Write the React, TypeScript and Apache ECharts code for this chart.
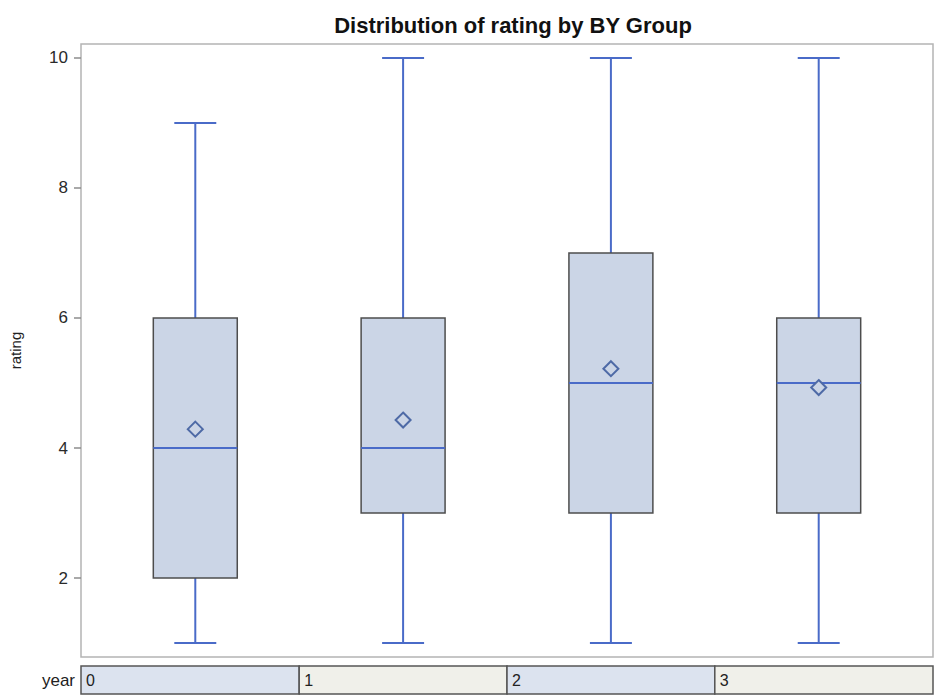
import React, { useEffect, useRef } from "react";
import * as echarts from "echarts";

// ---- data ----
const years = ["0", "1", "2", "3"];
const mins = [1, 1, 1, 1];
const q1s = [2, 3, 3, 3];
const medians = [4, 4, 5, 5];
const q3s = [6, 6, 7, 6];
const maxs = [9, 10, 10, 10];
const means = [4.29, 4.43, 5.22, 4.93];
const yTicks = [2, 4, 6, 8, 10];

const TITLE = "Distribution of rating by BY Group";
const Y_NAME = "rating";
const BY_NAME = "year";

// ---- styling ----
const FONT = "Liberation Sans, Arial, sans-serif";
const BOX_FILL = "#CBD5E6";
const BOX_EDGE = "#4d4d4d";
const WHISKER = "#4A6BC8";
const MEAN_EDGE = "#4E6AA6";
const CELL_FILLS = ["#DCE3EF", "#F0F0EA"];
const X_MIN = -0.55;
const X_MAX = 3.55;
const Y_MIN = 0.785;
const Y_MAX = 10.215;

export default function App() {
  const ref = useRef<HTMLDivElement>(null);

  useEffect(() => {
    document.body.style.margin = "0";
    if (!ref.current) return;
    const chart = echarts.init(ref.current, undefined, { renderer: "svg" });

    const boxData = years.map((_, i) => [i, mins[i], q1s[i], medians[i], q3s[i], maxs[i]]);
    const meanData = years.map((_, i) => [i, means[i]]);
    const cellData = years.map((_, i) => [
      i === 0 ? X_MIN : i - 0.5,
      i === years.length - 1 ? X_MAX : i + 0.5,
      i,
    ]);

    const option: any = {
      animation: false,
      backgroundColor: "#ffffff",
      title: {
        text: TITLE,
        left: 508,
        textAlign: "center",
        top: 9,
        textStyle: { fontFamily: FONT, fontSize: 22, fontWeight: "bold", color: "#111" },
      },
      grid: [
        { left: 81, right: 2, top: 44, height: 613, show: true, borderColor: "#b4b4b4", borderWidth: 1.5, backgroundColor: "#fff" },
        { left: 81, right: 2, top: 666, height: 28, show: false },
      ],
      xAxis: [
        { type: "value", gridIndex: 0, min: X_MIN, max: X_MAX, show: false },
        { type: "value", gridIndex: 1, min: X_MIN, max: X_MAX, show: false },
      ],
      yAxis: [
        {
          type: "value",
          gridIndex: 0,
          position: "left",
          min: Y_MIN,
          max: Y_MAX,
          name: Y_NAME,
          nameLocation: "middle",
          nameGap: 58,
          nameTextStyle: { fontFamily: FONT, fontSize: 15, color: "#222" },
          axisLine: { show: false, onZero: false },
          splitLine: { show: false },
          axisTick: { show: true, length: 7, customValues: yTicks, lineStyle: { color: "#8c8c8c", width: 1.5 } },
          axisLabel: {
            customValues: yTicks,
            margin: 13,
            fontFamily: FONT,
            fontSize: 17,
            color: "#2a2a2a",
          },
        },
        {
          type: "category",
          gridIndex: 1,
          position: "left",
          data: [BY_NAME],
          axisLine: { show: false, onZero: false },
          axisTick: { show: false },
          splitLine: { show: false },
          axisLabel: { margin: 6, fontFamily: FONT, fontSize: 17, color: "#222" },
        },
      ],
      series: [
        {
          type: "custom",
          xAxisIndex: 0,
          yAxisIndex: 0,
          data: boxData,
          z: 2,
          renderItem: (params: any, api: any) => {
            const x = api.value(0);
            const lo = api.coord([x, api.value(1)]);
            const q1 = api.coord([x, api.value(2)]);
            const md = api.coord([x, api.value(3)]);
            const q3 = api.coord([x, api.value(4)]);
            const hi = api.coord([x, api.value(5)]);
            const unit = api.size([1, 0])[0];
            const bw = unit * 0.404;
            const cw = bw * 0.5;
            const cx = lo[0];
            const wStyle = { stroke: WHISKER, lineWidth: 2 };
            return {
              type: "group",
              children: [
                { type: "line", shape: { x1: cx, y1: lo[1], x2: cx, y2: q1[1] }, style: wStyle },
                { type: "line", shape: { x1: cx, y1: q3[1], x2: cx, y2: hi[1] }, style: wStyle },
                { type: "line", shape: { x1: cx - cw / 2, y1: lo[1], x2: cx + cw / 2, y2: lo[1] }, style: wStyle },
                { type: "line", shape: { x1: cx - cw / 2, y1: hi[1], x2: cx + cw / 2, y2: hi[1] }, style: wStyle },
                {
                  type: "rect",
                  shape: { x: cx - bw / 2, y: q3[1], width: bw, height: q1[1] - q3[1] },
                  style: { fill: BOX_FILL, stroke: BOX_EDGE, lineWidth: 1.5 },
                },
                { type: "line", shape: { x1: cx - bw / 2, y1: md[1], x2: cx + bw / 2, y2: md[1] }, style: wStyle },
              ],
            };
          },
        },
        {
          type: "scatter",
          xAxisIndex: 0,
          yAxisIndex: 0,
          data: meanData,
          symbol: "diamond",
          symbolSize: [15, 15],
          z: 5,
          itemStyle: { color: BOX_FILL, borderColor: MEAN_EDGE, borderWidth: 2, opacity: 1 },
        },
        {
          type: "custom",
          xAxisIndex: 1,
          yAxisIndex: 1,
          data: cellData,
          renderItem: (params: any, api: any) => {
            const l = api.value(0);
            const r = api.value(1);
            const i = api.value(2);
            const pl = api.coord([l, 0]);
            const pr = api.coord([r, 0]);
            const h = api.size([0, 1])[1];
            return {
              type: "group",
              children: [
                {
                  type: "rect",
                  shape: { x: pl[0], y: pl[1] - h / 2, width: pr[0] - pl[0], height: h },
                  style: { fill: CELL_FILLS[i % 2], stroke: "#555", lineWidth: 1.5 },
                },
                {
                  type: "text",
                  x: pl[0] + 5,
                  y: pl[1],
                  style: {
                    text: years[i],
                    fill: "#222",
                    font: `16px ${FONT}`,
                    verticalAlign: "middle",
                    align: "left",
                  },
                },
              ],
            };
          },
        },
      ],
    };

    chart.setOption(option);
    return () => chart.dispose();
  }, []);

  return <div ref={ref} style={{ width: 935, height: 698 }} />;
}
